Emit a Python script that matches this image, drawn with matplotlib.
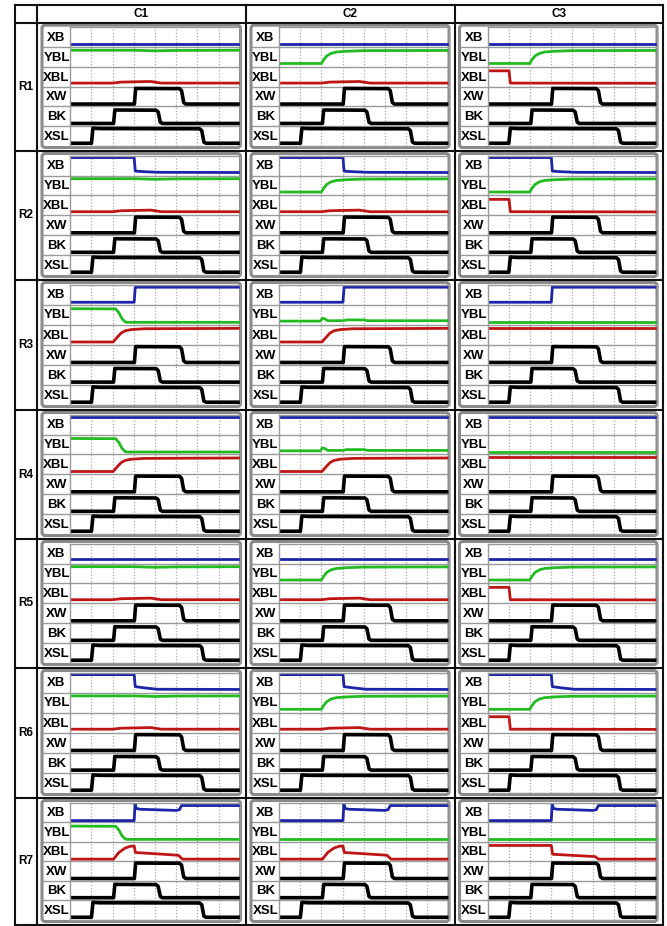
import numpy as np
import matplotlib.pyplot as plt
from matplotlib.patches import FancyBboxPatch

plt.rcParams['font.family'] = ['Liberation Sans', 'DejaVu Sans']

W, H = 667, 926

col_labels = ['C1', 'C2', 'C3']
row_labels = ['R1', 'R2', 'R3', 'R4', 'R5', 'R6', 'R7']
signal_labels = ['XB', 'YBL', 'XBL', 'XW', 'BK', 'XSL']  # top to bottom

# time in grid divisions (0..8), level as fraction of a strip (0..1)
# black traces, the same in every cell
xsl_t = [0, 1.01, 1.08, 1.4, 6.1, 6.2, 6.3, 6.4, 8]
xsl_v = [0.14, 0.14, 0.9, 0.88, 0.87, 0.78, 0.2, 0.14, 0.14]
bk_t = [0, 2.05, 2.11, 4.05, 4.15, 4.25, 4.35, 8]
bk_v = [0.14, 0.14, 0.82, 0.81, 0.72, 0.2, 0.14, 0.14]
xw_t = [0, 3.03, 3.09, 5.15, 5.25, 5.35, 5.45, 8]
xw_v = [0.12, 0.12, 0.91, 0.9, 0.8, 0.2, 0.12, 0.12]

# coloured traces
xb_low = ([0, 8], [0.14, 0.14])
xb_low5 = ([0, 8], [0.22, 0.22])
xb_high = ([0, 8], [0.86, 0.86])
xb_rise = ([0, 3.02, 3.07, 8], [0.12, 0.12, 0.87, 0.87])
xb_drop = ([0, 3.02, 3.07, 3.5, 4.2, 8], [0.9, 0.9, 0.22, 0.19, 0.16, 0.15])
xb_drop6 = ([0, 3.02, 3.07, 3.5, 4.1, 8], [0.9, 0.9, 0.3, 0.24, 0.17, 0.16])
xb_step = ([0, 3.02, 3.06, 3.12, 3.3, 5.0, 5.15, 5.25, 8],
           [0.08, 0.08, 0.93, 0.7, 0.66, 0.6, 0.64, 0.85, 0.85])

ybl_high = ([0, 3, 4, 5, 8], [0.84, 0.84, 0.81, 0.83, 0.84])
ybl_rise = ([0, 2.0, 2.1, 2.25, 2.45, 2.7, 3.2, 4.0, 8],
            [0.17, 0.17, 0.35, 0.55, 0.68, 0.75, 0.79, 0.82, 0.83])
ybl_fall = ([0, 2.15, 2.3, 2.45, 2.6, 2.7, 8], [0.8, 0.79, 0.6, 0.3, 0.14, 0.12, 0.12])
ybl_low = ([0, 8], [0.14, 0.14])
ybl_blip = ([0, 1.95, 2.05, 2.15, 2.3, 3.0, 3.2, 4.0, 4.2, 8],
            [0.18, 0.18, 0.32, 0.3, 0.2, 0.2, 0.24, 0.24, 0.2, 0.2])

xbl_bump = ([0, 2.0, 2.4, 3.8, 4.3, 8], [0.18, 0.18, 0.23, 0.26, 0.18, 0.18])
xbl_drop = ([0, 1.02, 1.08, 8], [0.8, 0.8, 0.18, 0.17])
xbl_rise = ([0, 2.03, 2.2, 2.4, 2.6, 2.9, 3.5, 8], [0.14, 0.14, 0.35, 0.58, 0.7, 0.76, 0.8, 0.82])
xbl_high = ([0, 8], [0.85, 0.85])
xbl_peak = ([0, 2.05, 2.3, 2.6, 2.85, 3.02, 3.08, 5.1, 5.2, 5.3, 8],
            [0.11, 0.11, 0.45, 0.68, 0.77, 0.78, 0.45, 0.31, 0.2, 0.11, 0.11])
xbl_steps = ([0, 3.02, 3.08, 5.1, 5.25, 8], [0.81, 0.81, 0.36, 0.24, 0.11, 0.11])

cell_xb = [[xb_low] * 3, [xb_drop] * 3, [xb_rise] * 3, [xb_high] * 3,
           [xb_low5] * 3, [xb_drop6] * 3, [xb_step] * 3]
cell_ybl = [[ybl_high, ybl_rise, ybl_rise],
            [ybl_high, ybl_rise, ybl_rise],
            [ybl_fall, ybl_blip, ybl_low],
            [ybl_fall, ybl_blip, ybl_low],
            [ybl_high, ybl_rise, ybl_rise],
            [ybl_high, ybl_rise, ybl_rise],
            [ybl_fall, ybl_low, ybl_low]]
cell_xbl = [[xbl_bump, xbl_bump, xbl_drop],
            [xbl_bump, xbl_bump, xbl_drop],
            [xbl_rise, xbl_rise, xbl_high],
            [xbl_rise, xbl_rise, xbl_high],
            [xbl_bump, xbl_bump, xbl_drop],
            [xbl_bump, xbl_bump, xbl_drop],
            [xbl_peak, xbl_peak, xbl_steps]]

BLUE, GREEN, RED = '#1c24a8', '#22bb22', '#c01515'

# table layout in pixels
col_x = [14.5, 37, 246, 454.5, 662.5]
row_y = [5, 22.7, 151, 280, 410, 539, 668, 798, 925]

fig = plt.figure(figsize=(W / 100, H / 100), dpi=100)
over = fig.add_axes([0, 0, 1, 1])
over.set_xlim(0, W)
over.set_ylim(H, 0)
over.axis('off')

for x in col_x:
    over.plot([x, x], [row_y[0], row_y[-1]], color='#111111', lw=1.5)
for y in row_y:
    over.plot([col_x[0], col_x[-1]], [y, y], color='#111111', lw=1.5)

for j, lab in enumerate(col_labels):
    over.text((col_x[j + 1] + col_x[j + 2]) / 2, (row_y[0] + row_y[1]) / 2 + 0.5, lab,
              ha='center', va='center', fontsize=8.5, fontweight='bold')
for i, lab in enumerate(row_labels):
    over.text((col_x[0] + col_x[1]) / 2, (row_y[i + 1] + row_y[i + 2]) / 2, lab,
              ha='center', va='center', fontsize=8.5, fontweight='bold')


def to_fig(x0, y0, x1, y1):
    return [x0 / W, 1 - y1 / H, (x1 - x0) / W, (y1 - y0) / H]


for i in range(len(row_labels)):
    for j in range(len(col_labels)):
        cx0, cx1 = col_x[j + 1], col_x[j + 2]
        cy0, cy1 = row_y[i + 1], row_y[i + 2]
        bx0, bx1, by0, by1 = cx0 + 5, cx1 - 5.5, cy0 + 2.5, cy1 - 3.5
        px0, px1, py0, py1 = cx0 + 33, cx1 - 6, cy0 + 4.6, cy1 - 5

        over.add_patch(FancyBboxPatch((bx0, by0), bx1 - bx0, by1 - by0,
                                      boxstyle='round,pad=0,rounding_size=3',
                                      fc='white', ec='#8a8a8a', lw=2.2))
        sh = (py1 - py0) / 6
        for k in range(1, 6):
            over.plot([bx0 + 1, px0], [py0 + k * sh] * 2, color='#9a9a9a', lw=1)
        for k, lab in enumerate(signal_labels):
            over.text((bx0 + px0) / 2 + 0.5, py0 + (k + 0.5) * sh + 0.8, lab,
                      ha='center', va='center', fontsize=9.5, fontweight='bold')

        ax = fig.add_axes(to_fig(px0, py0, px1, py1))
        ax.set_facecolor('none')
        ax.set_xlim(0, 8)
        ax.set_ylim(0, 6)
        ax.set_xticks(np.arange(1, 8))
        ax.set_yticks(np.arange(1, 6))
        ax.grid(axis='x', color='#a8a8a8', ls=(0, (1, 1.5)), lw=0.9)
        ax.grid(axis='y', color='#9a9a9a', ls='-', lw=1)
        ax.tick_params(length=0, labelbottom=False, labelleft=False)
        for s in ax.spines.values():
            s.set_color('#9a9a9a')
            s.set_linewidth(1)

        traces = [(cell_xb[i][j], BLUE, 2.0), (cell_ybl[i][j], GREEN, 2.0),
                  (cell_xbl[i][j], RED, 2.0),
                  ((xw_t, xw_v), 'black', 2.6), ((bk_t, bk_v), 'black', 2.6),
                  ((xsl_t, xsl_v), 'black', 2.6)]
        for k, ((t, v), color, lw) in enumerate(traces):
            base = 5 - k
            ax.plot(t, np.array(v) + base, color=color, lw=lw,
                    solid_joinstyle='round', solid_capstyle='butt')

fig.savefig('out.png', dpi=100)
